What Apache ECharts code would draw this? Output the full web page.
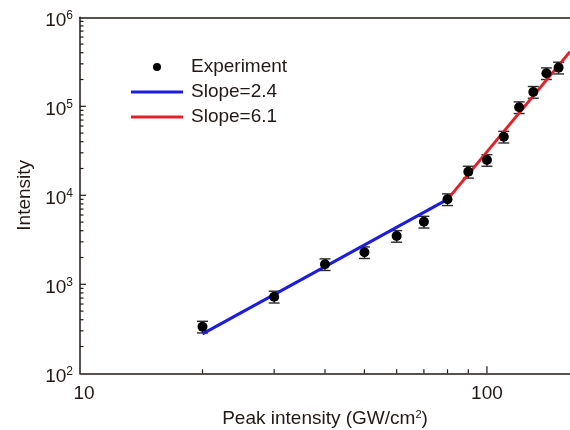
<!DOCTYPE html>
<html><head><meta charset="utf-8">
<script src="https://cdn.jsdelivr.net/npm/echarts@6/dist/echarts.min.js"></script>
<style>html,body{margin:0;padding:0;background:#fff}#c{width:570px;height:430px}</style>
</head><body><div id="c"></div>
<script>
// ---- data ----
const peakIntensity = [20, 30, 40, 50, 60, 70, 80, 90, 100, 110, 120, 130, 140, 150];
const intensity = [334, 726, 1680, 2290, 3490, 5050, 9020, 18400, 24900, 45500, 97500, 145000, 235000, 272000];
const intensityErr = [50, 110, 250, 340, 520, 760, 1350, 2800, 3700, 6800, 14600, 21800, 35000, 41000];
const fitLowX = [20, 80];
const fitLowY = [277, 9000];
const fitHighX = [80, 160];
const fitHighY = [9000, 410000];
const seriesNames = ['Experiment', 'Slope=2.4', 'Slope=6.1'];
const xAxisName = 'Peak intensity (GW/cm{s|2})';
const yAxisName = 'Intensity';
const xMajorTicks = [100];
const xMinorTicks = [20, 30, 40, 50, 60, 70, 80, 90];
const yMajorTicks = [1000, 10000, 100000];
const yMinorTicks = [200, 300, 400, 500, 600, 700, 800, 900,
  2000, 3000, 4000, 5000, 6000, 7000, 8000, 9000,
  20000, 30000, 40000, 50000, 60000, 70000, 80000, 90000,
  200000, 300000, 400000, 500000, 600000, 700000, 800000, 900000];

const X_MIN = 10, X_MAX = 160, Y_MIN = 100, Y_MAX = 1000000;
const INK = '#231815';
const BLUE = '#1c1ce0', RED = '#e4202a';
const FONT = "'Liberation Sans', Arial, sans-serif";
const LINE_ICON = 'path://M0,0L52,0L52,3L0,3Z';

const chart = echarts.init(document.getElementById('c'), null, {renderer: 'canvas'});

function isPow10(v) {
  const l = Math.log10(v);
  return Math.abs(l - Math.round(l)) < 1e-6;
}

const scatterData = peakIntensity.map((x, i) => [x, intensity[i]]);
const errData = peakIntensity.map((x, i) => [x, intensity[i] - intensityErr[i], intensity[i] + intensityErr[i]]);
const lowData = fitLowX.map((x, i) => [x, fitLowY[i]]);
const highData = fitHighX.map((x, i) => [x, fitHighY[i]]);

function tickSeries(values, dir, len) {
  return {
    type: 'custom', silent: true, z: 1, clip: false,
    data: values.map(v => [v]),
    renderItem: function (params, api) {
      const v = api.value(0);
      let p, x2, y2;
      if (dir === 'x') { p = api.coord([v, Y_MIN]); x2 = p[0]; y2 = p[1] - len; }
      else { p = api.coord([X_MIN, v]); x2 = p[0] + len; y2 = p[1]; }
      return {type: 'line', shape: {x1: p[0], y1: p[1], x2: x2, y2: y2},
        style: {stroke: INK, lineWidth: 1.2}};
    }
  };
}

const option = {
  animation: false,
  backgroundColor: '#fff',
  textStyle: {fontFamily: FONT},
  grid: {left: 80, right: 0, top: 17.3, bottom: 56.7, outerBoundsMode: 'none'},
  legend: {
    orient: 'vertical', left: 131, top: 54.5, padding: 0,
    itemWidth: 52, itemHeight: 8, itemGap: 0, symbolKeepAspect: true,
    textStyle: {fontFamily: FONT, fontSize: 19, color: INK, lineHeight: 25, padding: [0, 0, 0, 3]},
    data: [
      {name: seriesNames[0], icon: 'circle', itemStyle: {color: '#000', opacity: 1}},
      {name: seriesNames[1], icon: LINE_ICON, itemStyle: {color: BLUE}},
      {name: seriesNames[2], icon: LINE_ICON, itemStyle: {color: RED}}
    ]
  },
  xAxis: [{
    type: 'log', logBase: 10, min: X_MIN, max: X_MAX,
    name: xAxisName, nameLocation: 'middle', nameGap: 36,
    nameTextStyle: {fontFamily: FONT, fontSize: 19, color: INK,
      rich: {s: {fontSize: 11, verticalAlign: 'top', lineHeight: 12, color: INK}}},
    axisLine: {show: true, lineStyle: {color: INK, width: 1.5}},
    axisTick: {show: false},
    splitLine: {show: false},
    axisLabel: {fontFamily: FONT, fontSize: 19, color: INK, margin: 11,
      formatter: v => isPow10(v) ? (Math.round(v) === X_MIN ? '{f|' + Math.round(v) + '}' : String(Math.round(v))) : '',
      rich: {f: {fontFamily: FONT, fontSize: 19, color: INK, padding: [0, 0, 0, 8]}}}
  }, {
    type: 'log', logBase: 10, min: X_MIN, max: X_MAX, position: 'top',
    axisLine: {show: true, lineStyle: {color: INK, width: 1.5}},
    axisTick: {show: false}, axisLabel: {show: false}, splitLine: {show: false}
  }],
  yAxis: {
    type: 'log', logBase: 10, min: Y_MIN, max: Y_MAX,
    name: yAxisName, nameLocation: 'middle', nameGap: 42, nameRotate: 90,
    nameTextStyle: {fontFamily: FONT, fontSize: 19, color: INK},
    axisLine: {show: true, lineStyle: {color: INK, width: 1.5}},
    axisTick: {show: false},
    splitLine: {show: false},
    axisLabel: {margin: 7, color: INK, padding: [5, 0, 0, 0],
      formatter: v => isPow10(v) ? '{b|10}{s|' + Math.round(Math.log10(v)) + '}' : '',
      rich: {
        b: {fontFamily: FONT, fontSize: 19, color: INK, lineHeight: 20, verticalAlign: 'bottom'},
        s: {fontFamily: FONT, fontSize: 12, color: INK, lineHeight: 12, verticalAlign: 'top'}
      }
    }
  },
  series: [
    tickSeries(xMinorTicks, 'x', 4),
    tickSeries(xMajorTicks, 'x', 7),
    tickSeries(yMinorTicks, 'y', 3.5),
    tickSeries(yMajorTicks, 'y', 6),
    {
      type: 'custom', silent: true, z: 3,
      data: errData,
      renderItem: function (params, api) {
        const lo = api.coord([api.value(0), api.value(1)]);
        const hi = api.coord([api.value(0), api.value(2)]);
        const w = 5.5;
        const st = {stroke: '#2a2a2a', lineWidth: 1.4};
        return {type: 'group', children: [
          {type: 'line', shape: {x1: lo[0], y1: lo[1], x2: hi[0], y2: hi[1]}, style: st},
          {type: 'line', shape: {x1: lo[0] - w, y1: lo[1], x2: lo[0] + w, y2: lo[1]}, style: st},
          {type: 'line', shape: {x1: hi[0] - w, y1: hi[1], x2: hi[0] + w, y2: hi[1]}, style: st}
        ]};
      }
    },
    {
      name: seriesNames[1], type: 'line', data: lowData, symbol: 'none', showSymbol: false, z: 4,
      lineStyle: {color: BLUE, width: 3}, itemStyle: {color: BLUE}
    },
    {
      name: seriesNames[2], type: 'line', data: highData, symbol: 'none', showSymbol: false, z: 4,
      lineStyle: {color: RED, width: 3}, itemStyle: {color: RED}
    },
    {
      name: seriesNames[0], type: 'scatter', data: scatterData, symbol: 'circle', symbolSize: 10, z: 5,
      itemStyle: {color: '#000', opacity: 1}
    }
  ]
};
chart.setOption(option);
</script>
</body></html>
